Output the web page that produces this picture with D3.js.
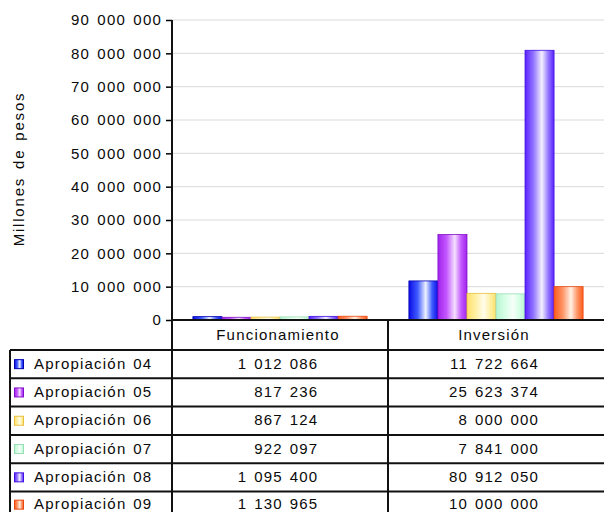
<!DOCTYPE html>
<html>
<head>
<meta charset="utf-8">
<script src="https://cdn.jsdelivr.net/npm/d3@7"></script>
<style>
  html, body { margin: 0; padding: 0; background: #fff; }
  svg text { font-family: "Liberation Sans", Arial, Helvetica, sans-serif; fill: #0a0a0a; }
</style>
</head>
<body>
<svg id="chart" width="604" height="512"></svg>
<script>
// ---- Data ----
const categories = ["Funcionamiento", "Inversión"];
const seriesNames = ["Apropiación 04", "Apropiación 05", "Apropiación 06", "Apropiación 07", "Apropiación 08", "Apropiación 09"];
const funcionamiento = [1012086, 817236, 867124, 922097, 1095400, 1130965];
const inversion = [11722664, 25623374, 8000000, 7841000, 80912050, 10000000];
const yTicks = [0, 10000000, 20000000, 30000000, 40000000, 50000000, 60000000, 70000000, 80000000, 90000000];
const yTitle = "Millones de pesos";

// ---- Styles ----
const colors = [
  { edge: "#0c0ce6", mid: "#3f5cff", hi: "#eef2ff" },
  { edge: "#a024ec", mid: "#c458ff", hi: "#f4e0ff" },
  { edge: "#ffe06a", mid: "#fff0a4", hi: "#fffcec" },
  { edge: "#b6f4cf", mid: "#d6ffe6", hi: "#f6fff9" },
  { edge: "#5a22ff", mid: "#9478ff", hi: "#f3f0ff" },
  { edge: "#ff5c1e", mid: "#ff9566", hi: "#fff1e4" }
];
const strokeCols = ["#0000b0", "#8010c8", "#e8c040", "#98dcb4", "#4010e0", "#e84810"];
const FS = 15, LS = "1.2px", WS = "1.5px";

const values = seriesNames.map((s, i) => [funcionamiento[i], inversion[i]]);

const svg = d3.select("#chart");
const fmt = v => d3.format(",")(v).replace(/,/g, " ");

const plotLeft = 172, plotRight = 604, plotTop = 20, plotBottom = 320;
const headerBottom = 350, rowH = 28.3;
const tableLeft = 10;

// gradients
const defs = svg.append("defs");
colors.forEach((c, i) => {
  const g = defs.append("linearGradient").attr("id", "g" + i)
    .attr("x1", "0%").attr("x2", "100%").attr("y1", "0%").attr("y2", "0%");
  [[0, c.edge], [0.3, c.mid], [0.58, c.hi], [0.8, c.mid], [1, c.edge]].forEach(([o, col]) =>
    g.append("stop").attr("offset", o).attr("stop-color", col));
});

const y = d3.scaleLinear().domain([0, 90000000]).range([plotBottom, plotTop]);
const x = d3.scaleBand().domain(categories).range([plotLeft, plotRight]).padding(0);
const xs = d3.scaleBand().domain(seriesNames).range([0, x.bandwidth()]).paddingInner(0).paddingOuter(0.72);

// gridlines
svg.append("g").selectAll("line").data(yTicks.filter(t => t > 0)).join("line")
  .attr("x1", plotLeft).attr("x2", plotRight)
  .attr("y1", d => y(d)).attr("y2", d => y(d))
  .attr("stroke", "#d9d9d9").attr("stroke-width", 1);

// bars
const groups = svg.append("g").selectAll("g").data(categories).join("g")
  .attr("transform", d => `translate(${x(d)},0)`);
groups.selectAll("rect").data((c, ci) => seriesNames.map((s, si) => ({ s, si, v: values[si][ci] })))
  .join("rect")
  .attr("x", d => xs(d.s))
  .attr("width", xs.bandwidth())
  .attr("y", d => y(d.v))
  .attr("height", d => y(0) - y(d.v))
  .attr("fill", d => `url(#g${d.si})`)
  .attr("stroke", d => strokeCols[d.si]).attr("stroke-width", 0.8);

// y axis
const yAxis = d3.axisLeft(y).tickValues(yTicks).tickFormat(fmt).tickSize(6).tickPadding(4);
const ya = svg.append("g").attr("transform", `translate(${plotLeft},0)`).call(yAxis);
ya.select(".domain").remove();
ya.selectAll(".tick line").attr("stroke", "#000").attr("stroke-width", 1.5);
ya.selectAll(".tick text").attr("font-size", FS).attr("letter-spacing", LS).attr("word-spacing", "2px")
  .style("font-family", "'Liberation Sans', Arial, sans-serif").attr("fill", "#0a0a0a");

// y title
svg.append("text")
  .attr("transform", `translate(24,${169}) rotate(-90)`)
  .attr("text-anchor", "middle")
  .attr("font-size", FS).attr("letter-spacing", "1.8px").attr("word-spacing", "2px")
  .text(yTitle);

// table lines
const nRows = seriesNames.length;
const lines = svg.append("g").attr("stroke", "#111").attr("stroke-width", 2);
lines.append("line").attr("x1", plotLeft).attr("x2", plotLeft).attr("y1", plotTop).attr("y2", 512);
lines.append("line").attr("x1", plotLeft - 1).attr("x2", plotRight).attr("y1", plotBottom).attr("y2", plotBottom);
lines.append("line").attr("x1", x("Inversión")).attr("x2", x("Inversión")).attr("y1", plotBottom).attr("y2", 512);
lines.append("line").attr("x1", tableLeft).attr("x2", tableLeft).attr("y1", headerBottom).attr("y2", 512);
const rowLines = d3.range(nRows + 1).map(i => headerBottom + i * rowH);
lines.selectAll(".rl").data(rowLines).join("line").attr("class", "rl")
  .attr("x1", tableLeft).attr("x2", plotRight).attr("y1", d => d).attr("y2", d => d);

// header texts
svg.append("g").selectAll("text").data(categories).join("text")
  .attr("x", d => x(d) + x.bandwidth() / 2 - 2)
  .attr("y", (plotBottom + headerBottom) / 2 + 1)
  .attr("dominant-baseline", "middle").attr("text-anchor", "middle")
  .attr("font-size", FS).attr("letter-spacing", LS)
  .text(d => d);

// row labels with swatches
const rowY = i => headerBottom + i * rowH + rowH / 2 - (i === nRows - 1 ? 1 : 0);
const rows = svg.append("g").selectAll("g").data(seriesNames).join("g")
  .attr("transform", (d, i) => `translate(0,${rowY(i)})`);
rows.append("rect").attr("x", 14.5).attr("y", -4.5).attr("width", 9).attr("height", 9)
  .attr("fill", (d, i) => `url(#g${i})`).attr("stroke", (d, i) => strokeCols[i]).attr("stroke-width", 1);
rows.append("text").attr("x", 34).attr("y", 0.5).attr("dominant-baseline", "middle")
  .attr("font-size", FS).attr("letter-spacing", LS).attr("word-spacing", WS)
  .text(d => d);

// values
categories.forEach((c, ci) => {
  const g = svg.append("g");
  const t = g.selectAll("text").data(seriesNames).join("text")
    .attr("y", (d, i) => rowY(i) + 0.5)
    .attr("dominant-baseline", "middle").attr("text-anchor", "end")
    .attr("font-size", FS).attr("letter-spacing", LS).attr("word-spacing", WS)
    .text((d, i) => fmt(values[i][ci]));
  let maxW = 0;
  t.each(function () { maxW = Math.max(maxW, this.getComputedTextLength()); });
  t.attr("x", x(c) + x.bandwidth() / 2 - 2 + maxW / 2);
});
</script>
</body>
</html>
